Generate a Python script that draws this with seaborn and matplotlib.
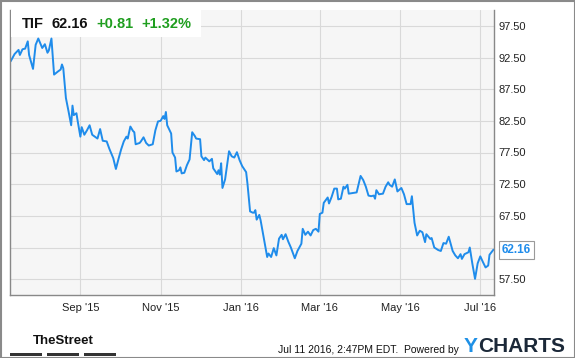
import matplotlib
matplotlib.use("Agg")
import matplotlib.pyplot as plt
import matplotlib.patches as mpatches
import seaborn as sns
import pandas as pd

# ---- data ----
start_date = "2015-07-10"
days = [0, 3, 6, 7, 9, 11, 13, 14, 17, 19, 21, 24, 26, 28, 29, 31, 33, 36, 38, 39,
        40, 42, 44, 46, 47, 48, 50, 51, 53, 54, 56, 58, 60, 62, 64, 66, 68, 70, 73, 75,
        78, 80, 82, 84, 86, 88, 89, 91, 93,
        94, 95, 98, 99, 101, 103, 105, 108, 110, 112, 114, 116, 117, 118, 119, 122, 123, 125, 126, 128,
        129, 130, 132, 134, 136, 138, 140, 141, 144, 145, 147, 148, 151, 153, 154, 157, 158, 159, 160, 161,
        163, 166, 168, 170, 172, 174, 176, 178, 179, 180, 182, 184,
        185, 186, 187, 189, 190, 192, 195, 196, 198, 200, 202, 204, 206, 207, 209, 211, 213, 216, 218, 221,
        222, 224, 226, 228, 230, 232, 234, 235, 237, 238, 240, 241, 242, 244, 246, 248, 249, 251, 253, 254,
        256, 257, 260, 263, 266, 268, 270, 272,
        274, 276, 277, 278, 280, 283, 285, 287, 288, 290, 292, 294, 297, 299, 301, 304, 305, 307, 309, 311,
        313, 315, 316, 319, 320, 322, 325, 327, 329, 331, 333, 334, 336, 338, 340, 342, 343, 345, 348, 349,
        351, 353, 355, 357, 359, 361, 363, 364, 367]
prices = [91.9, 93.05, 93.7, 92.9, 93.8, 93.9, 95.05, 92.9, 90.7, 94.5, 95.5, 94.0, 94.6, 93.25, 93.6, 95.5, 89.8, 90.3, 90.6, 91.4,
          90.8, 86.1, 84.0, 81.8, 84.9, 83.4, 83.7, 82.4, 80.0, 81.5, 80.3, 81.0, 81.8, 80.3, 80.0, 79.7, 81.2, 79.35, 79.25, 78.1,
          76.6, 74.9, 76.5, 78.0, 79.25, 80.0, 79.7, 81.6, 80.9,
          80.7, 78.8, 79.0, 79.25, 79.9, 79.0, 78.6, 78.8, 81.0, 82.4, 82.5, 83.25, 82.8, 83.9, 81.8, 80.5, 77.5, 76.7, 74.5, 74.7,
          75.15, 74.2, 74.3, 75.5, 76.4, 80.7, 80.1, 79.7, 79.6, 76.9, 76.3, 76.7, 76.1, 76.5, 75.0, 74.1, 74.7, 74.0, 75.8, 71.9,
          73.25, 77.7, 76.9, 76.7, 77.55, 76.3, 75.35, 74.7, 74.4, 72.6, 68.2, 68.0,
          68.0, 68.4, 66.9, 67.65, 66.8, 64.5, 61.0, 61.55, 61.0, 62.4, 61.25, 63.9, 64.5, 63.8, 64.6, 63.45, 62.5, 60.8, 61.95, 63.1,
          65.45, 64.5, 65.0, 64.4, 65.25, 65.45, 65.0, 67.8, 68.0, 69.55, 70.1, 70.4, 69.45, 70.5, 71.8, 71.8, 70.1, 70.2, 72.1, 71.8,
          72.4, 71.0, 71.1, 71.2, 73.8, 73.15, 72.1, 70.7,
          70.6, 70.7, 70.2, 71.55, 70.9, 71.0, 72.1, 72.8, 72.4, 72.1, 73.25, 71.35, 71.9, 70.9, 69.35, 69.35, 70.6, 66.4, 64.4, 65.15,
          64.9, 63.35, 64.6, 63.85, 64.0, 62.5, 62.1, 61.95, 63.2, 63.1, 64.2, 63.45, 61.95, 61.25, 60.8, 61.45, 60.7, 61.45, 61.75, 62.5,
          59.9, 57.55, 60.0, 61.1, 60.2, 59.35, 59.65, 61.35, 62.16]
ytick_values = [57.5, 62.5, 67.5, 72.5, 77.5, 82.5, 87.5, 92.5, 97.5]
# the 62.50 label is hidden behind the last-value tag in the reference
ytick_labels = ["57.50", "", "67.50", "72.50", "77.50", "82.50", "87.50", "92.50", "97.50"]
xtick_dates = ["2015-09-01", "2015-11-01", "2016-01-01", "2016-03-01", "2016-05-01", "2016-07-01"]
xtick_labels = ["Sep '15", "Nov '15", "Jan '16", "Mar '16", "May '16", "Jul '16"]
ticker = "TIF"
last_price = "62.16"
change = "+0.81"
change_pct = "+1.32%"
footer_text = "Jul 11 2016, 2:47PM EDT.  Powered by"

df = pd.DataFrame({
    "date": pd.Timestamp(start_date) + pd.to_timedelta(days, unit="D"),
    "price": prices,
})

# ---- figure ----
W, H = 575, 358
sns.set_style("white")
plt.rcParams["font.family"] = ["Liberation Sans", "DejaVu Sans"]

fig = plt.figure(figsize=(W / 100, H / 100), dpi=100)
fig.patch.set_facecolor("white")

def fx(px):
    return px / W

def fy(py):
    return 1 - py / H

left, right, top, bottom = 10, 494, 10, 295
ax = fig.add_axes([fx(left), fy(bottom), fx(right - left), (bottom - top) / H])
ax.set_facecolor("#f6f6f6")

line_color = "#1f8ceb"
sns.lineplot(data=df, x="date", y="price", ax=ax, color=line_color, linewidth=1.4)

ax.set_ylim(55, 100)
ax.set_xlim(pd.Timestamp("2015-07-09 12:00"), pd.Timestamp("2016-07-11 10:00"))
ax.set_xlabel("")
ax.set_ylabel("")

ax.set_yticks(ytick_values)
ax.set_yticklabels(ytick_labels)
ax.yaxis.tick_right()
ax.set_xticks(pd.to_datetime(xtick_dates))
ax.set_xticklabels(xtick_labels)
ax.tick_params(axis="both", length=0, labelsize=8, colors="#222222")
ax.tick_params(axis="y", pad=3.5)
ax.tick_params(axis="x", pad=6)
ax.grid(True, color="#d9d9d9", linewidth=0.8)
ax.set_axisbelow(True)

for side in ["left", "bottom", "right"]:
    ax.spines[side].set_color("#888888")
    ax.spines[side].set_linewidth(1.0)
ax.spines["top"].set_visible(False)

# last value label with a small pointer
ax.annotate(last_price, xy=(df["date"].iloc[-1], prices[-1]), xycoords="data",
            xytext=(6, 0), textcoords="offset points", va="center", ha="left",
            fontsize=8.5, fontweight="bold", color=line_color,
            bbox=dict(boxstyle="square,pad=0.25", fc="white", ec="#9a9a9a", lw=0.8),
            annotation_clip=False, zorder=10)

# header box
fig.patches.append(mpatches.Rectangle((fx(10.5), fy(37)), fx(190), 27 / H,
                                      transform=fig.transFigure, facecolor="white",
                                      edgecolor="none", zorder=5))
hy = fy(23.5)
fig.text(fx(22), hy, ticker, fontsize=10.5, fontweight="bold", color="#111111", va="center", zorder=6)
fig.text(fx(52), hy, last_price, fontsize=10.5, fontweight="bold", color="#111111", va="center", zorder=6)
fig.text(fx(96), hy, change, fontsize=10.5, fontweight="bold", color="#1f9e1f", va="center", zorder=6)
fig.text(fx(141), hy, change_pct, fontsize=10.5, fontweight="bold", color="#1f9e1f", va="center", zorder=6)

# footer
fig.text(fx(63), fy(341), "TheStreet", fontsize=9.5, fontweight="bold", color="#111111",
         ha="center", va="center")
for x0, x1 in [(10, 42), (47, 79), (84, 116)]:
    fig.patches.append(mpatches.Rectangle((fx(x0), fy(356)), fx(x1 - x0), 3 / H,
                                          transform=fig.transFigure, facecolor="#333333",
                                          edgecolor="none"))
fig.text(fx(459), fy(350), footer_text, fontsize=7.5, color="#111111", ha="right", va="center")
fig.text(fx(464), fy(347), "Y", fontsize=15, fontweight="bold", color="#1e90e6", ha="left", va="center")
fig.text(fx(478), fy(347), "CHARTS", fontsize=15, fontweight="bold", color="#1b2838", ha="left", va="center")

# outer frame
fig.patches.append(mpatches.Rectangle((fx(0.5), fy(357.5)), fx(574), 357 / H,
                                      transform=fig.transFigure, facecolor="none",
                                      edgecolor="#8a8a8a", lw=1.5))

fig.savefig("out.png", dpi=100)
